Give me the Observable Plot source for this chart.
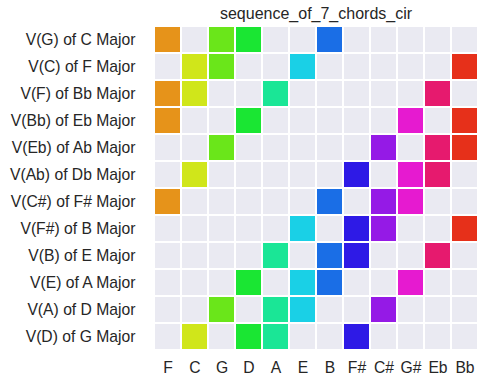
<!DOCTYPE html>
<html><head><meta charset="utf-8">
<script src="https://cdn.jsdelivr.net/npm/d3@7"></script>
<script src="https://cdn.jsdelivr.net/npm/@observablehq/plot@0.6"></script>
<style>body{margin:0;background:#fff;} svg{font-family:"Liberation Sans",Arial,sans-serif;}</style>
</head><body><div id="chart"></div>
<script>
const notes = ["F","C","G","D","A","E","B","F#","C#","G#","Eb","Bb"];
const noteColors = ["#e6931a","#d0e61a","#6ae61a","#1ae633","#1ae696","#1ad0e6","#1a6ee6","#2e1ae6","#951ae6","#e61ad0","#e61a6e","#e6301a"];
const chords = ["V(G) of C Major","V(C) of F Major","V(F) of Bb Major","V(Bb) of Eb Major","V(Eb) of Ab Major","V(Ab) of Db Major","V(C#) of F# Major","V(F#) of B Major","V(B) of E Major","V(E) of A Major","V(A) of D Major","V(D) of G Major"];
const chordNotes = [
  ["F","G","D","B"],
  ["C","G","E","Bb"],
  ["F","C","A","Eb"],
  ["F","D","G#","Bb"],
  ["G","C#","Eb","Bb"],
  ["C","F#","G#","Eb"],
  ["F","B","C#","G#"],
  ["E","F#","C#","Bb"],
  ["A","B","F#","Eb"],
  ["D","E","B","G#"],
  ["G","A","E","C#"],
  ["C","D","A","F#"]
];
const title = "sequence_of_7_chords_cir";

const all = chords.flatMap(c => notes.map(n => ({chord: c, note: n})));
const on = chords.flatMap((c, i) => chordNotes[i].map(n => ({chord: c, note: n})));

const chart = Plot.plot({
  width: 490, height: 382,
  marginLeft: 149, marginRight: 8, marginTop: 26, marginBottom: 32,
  style: {fontFamily: "'Liberation Sans', Arial, sans-serif", color: "#262626", background: "#fff"},
  x: {domain: notes, padding: 0},
  y: {domain: chords, padding: 0},
  color: {domain: notes, range: noteColors},
  marks: [
    Plot.cell(all, {x: "note", y: "chord", fill: "#eaeaf2", inset: 1}),
    Plot.cell(on, {x: "note", y: "chord", fill: "note", inset: 1}),
    Plot.axisX({label: null, tickSize: 0, tickPadding: 11, fontSize: 15.7, fill: "#262626"}),
    Plot.axisY({label: null, tickSize: 0, tickPadding: 14, fontSize: 15.7, fill: "#262626"}),
    Plot.text([title], {frameAnchor: "top", lineAnchor: "middle", dy: -13, text: d => d, fontSize: 16, fill: "#262626"})
  ]
});
document.getElementById("chart").appendChild(chart);
</script></body></html>
